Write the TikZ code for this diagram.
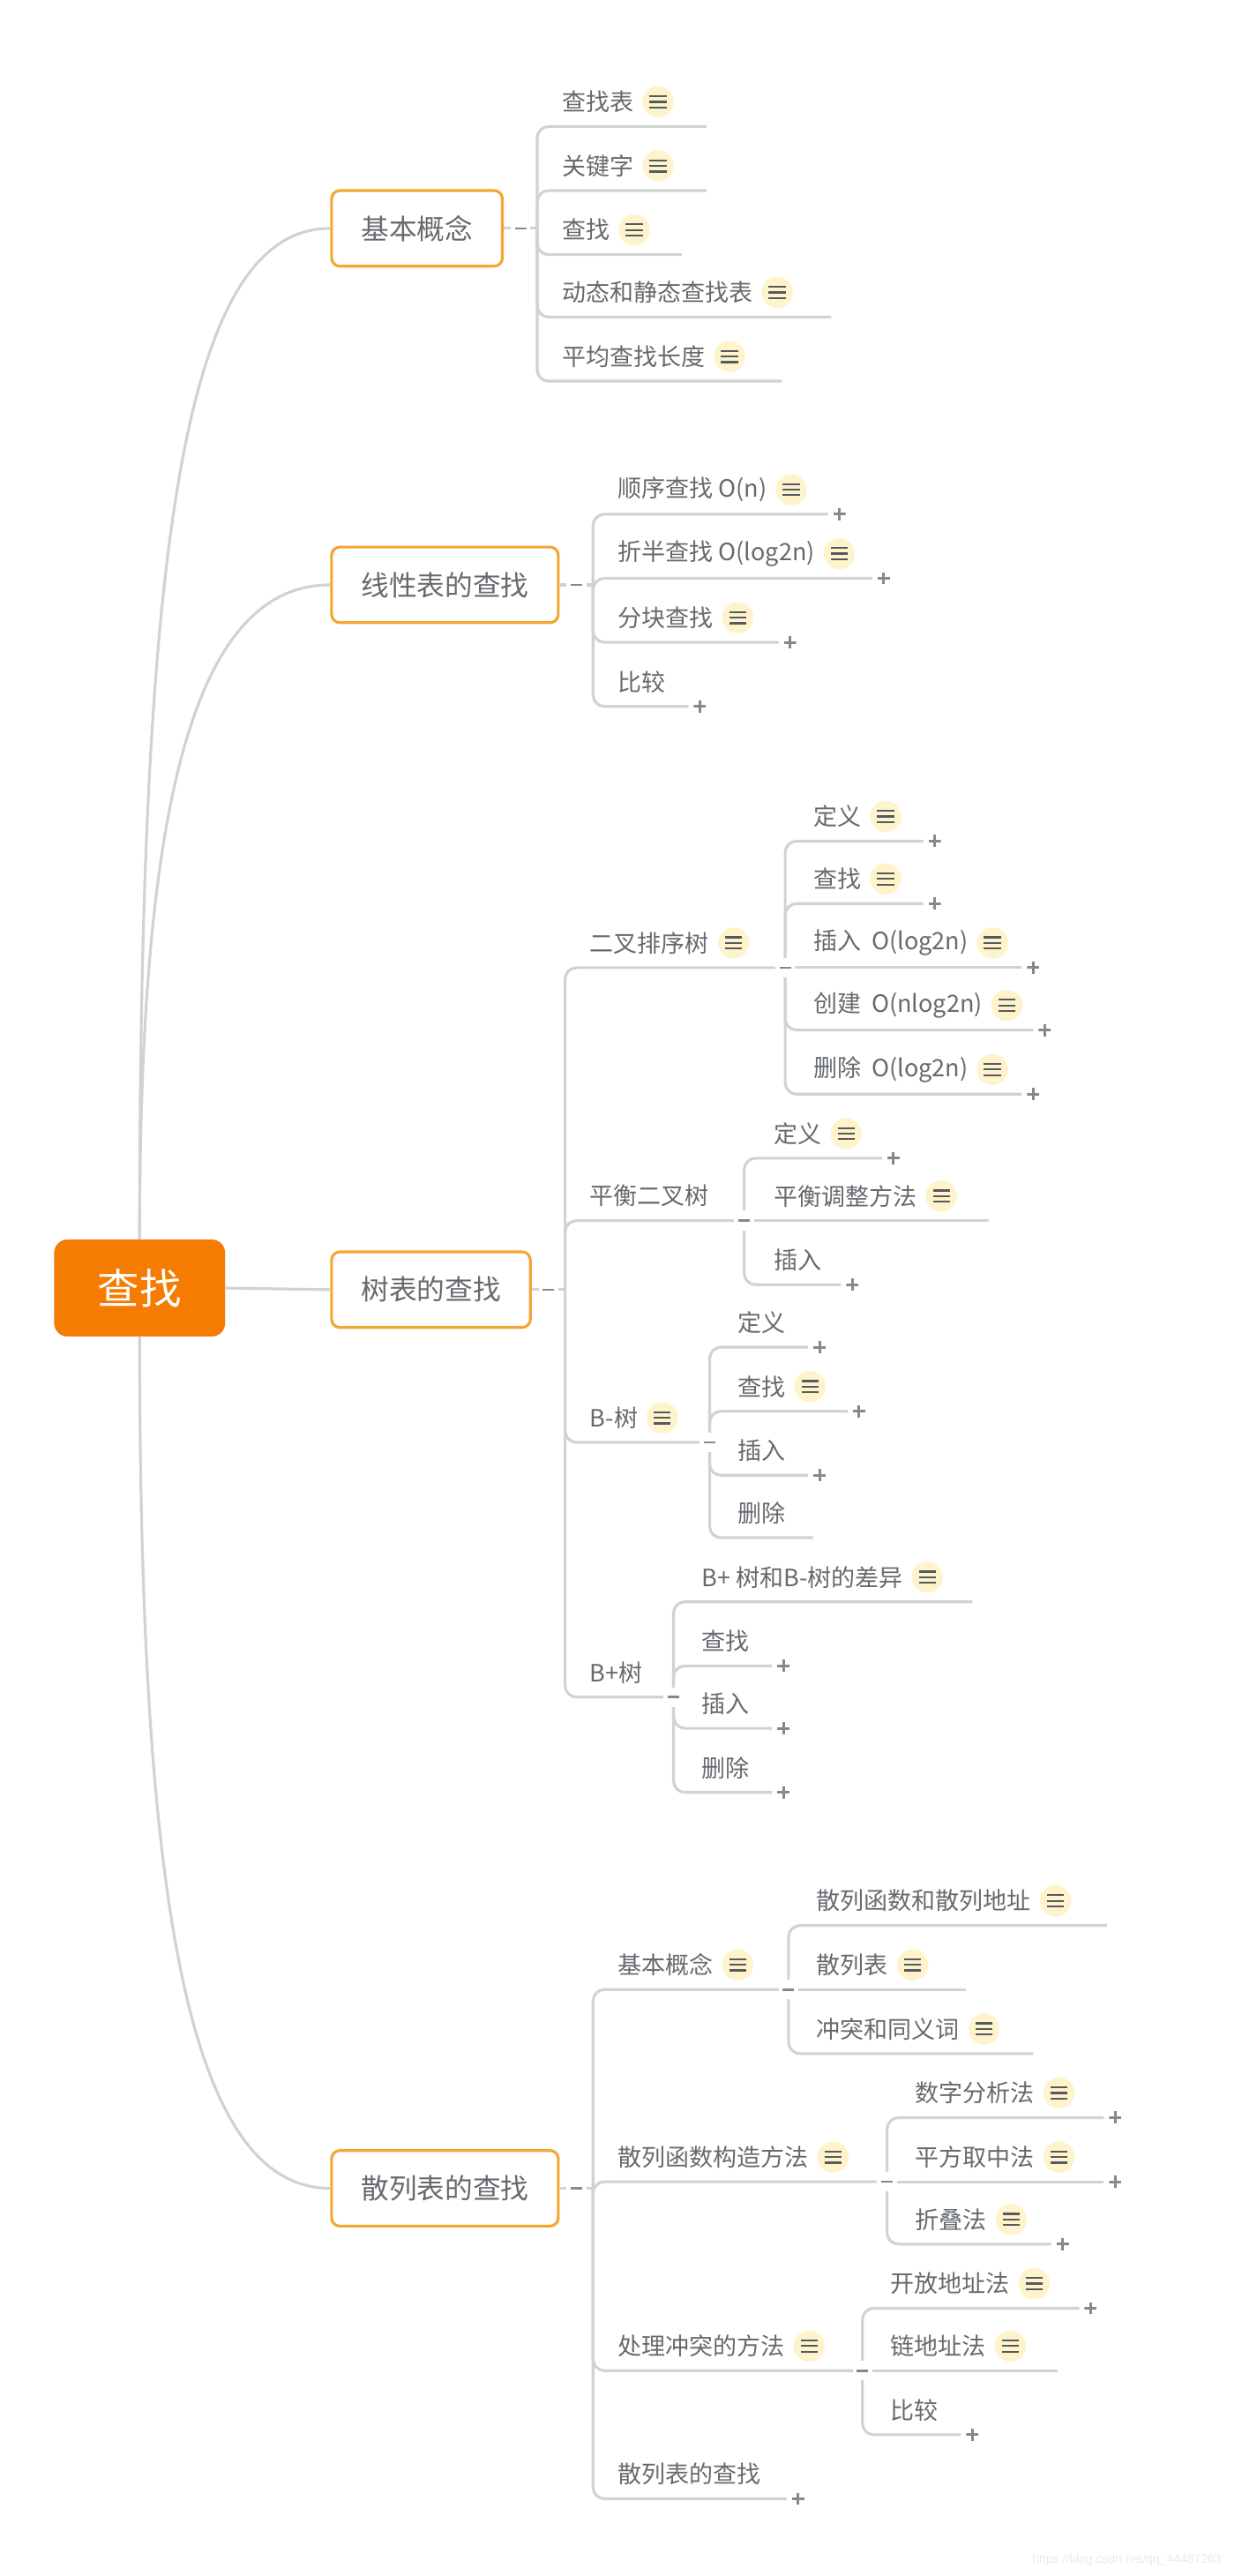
\documentclass[tikz,border=0pt]{standalone}
\usepackage{fontspec}
\newfontfamily\cjk{Noto Sans CJK SC}
\usetikzlibrary{positioning}

\definecolor{wurzelorange}{RGB}{245,124,0}
\definecolor{kastenorange}{RGB}{245,165,50}
\definecolor{linie}{RGB}{208,211,211}
\definecolor{schrift}{RGB}{102,106,110}
\definecolor{notizgelb}{RGB}{255,243,204}
\definecolor{notizgrau}{RGB}{85,90,95}
\definecolor{zeichen}{RGB}{136,136,136}

\tikzset{
    wurzel/.style={rectangle, rounded corners=8pt, fill=wurzelorange, text=white,
        font=\cjk\fontsize{25.5}{29}\selectfont, minimum width=104pt, minimum height=59pt},
    kasten/.style={rectangle, rounded corners=5pt, draw=kastenorange, line width=1.7pt,
        fill=white, text=schrift, font=\cjk\fontsize{17}{20}\selectfont,
        minimum height=46pt, inner xsep=18pt, anchor=west},
    blatt/.style={anchor=west, inner sep=0pt, text=schrift, font=\cjk\fontsize{14.5}{17}\selectfont},
    notiz/.style={circle, fill=notizgelb, minimum size=19pt, inner sep=0pt,
        path picture={\foreach \d in {-3.4,0,3.4}
            \draw[notizgrau, line width=1.2pt] ([xshift=-5.2pt,yshift=\d pt]path picture bounding box.center) -- ++(10.4pt,0);}},
    pluszeichen/.style={minimum size=7.5pt, inner sep=0pt,
        path picture={\draw[zeichen, line width=1.6pt]
            (path picture bounding box.north) -- (path picture bounding box.south)
            (path picture bounding box.west) -- (path picture bounding box.east);}},
    knopf/.style={fill=white, minimum width=12pt, minimum height=12pt, inner sep=0pt,
        path picture={\draw[zeichen, line width=1.4pt]
            ([xshift=-3.5pt]path picture bounding box.center) -- ([xshift=3.5pt]path picture bounding box.center);}},
    ast/.style={draw=linie, line width=1.7pt, rounded corners=7pt},
    zweig/.style={draw=linie, line width=1.7pt}
}

\begin{document}
\begin{tikzpicture}[x=1pt, y=-1pt]
    \useasboundingbox[fill=white] (0,0) rectangle (756,1568);

    % Wurzel und Hauptaeste
    \path node[wurzel] (chazhao) at (85,784) {查找}
        node[kasten] (jiben) at (201,139) {基本概念}
        node[kasten] (xianxing) at (201,356) {线性表的查找}
        node[kasten] (shubiao) at (201,785) {树表的查找}
        node[kasten] (sanlie) at (201,1332) {散列表的查找};
    \draw[zweig] (chazhao.north) .. controls (85,330) and (112,139) .. (jiben.west);
    \draw[zweig] (chazhao.north) .. controls (85,500) and (115,356) .. (xianxing.west);
    \draw[zweig] (chazhao.east) -- (shubiao.west);
    \draw[zweig] (chazhao.south) .. controls (85,1160) and (115,1332) .. (sanlie.west);

    \coordinate (k1) at (327,139);
    \coordinate (k2) at (361,356);
    \coordinate (k3) at (344,785);
    \coordinate (k4) at (361,1332);

    % 基本概念
    \path node[blatt] (jb1) at (342,62) {查找表}
        node[blatt] (jb2) at (342,101) {关键字}
        node[blatt] (jb3) at (342,140) {查找}
        node[blatt] (jb4) at (342,178) {动态和静态查找表}
        node[blatt] (jb5) at (342,217) {平均查找长度}
        node[notiz, right=5pt of jb1] (jb1n) {}
        node[notiz, right=5pt of jb2] (jb2n) {}
        node[notiz, right=5pt of jb3] (jb3n) {}
        node[notiz, right=5pt of jb4] (jb4n) {}
        node[notiz, right=5pt of jb5] (jb5n) {};
    \coordinate (jb1e) at (430,77);
    \coordinate (jb2e) at (430,116);
    \coordinate (jb3e) at (415,155);
    \coordinate (jb4e) at (506,193);
    \coordinate (jb5e) at (476,232);
    \draw[ast] (jiben.east) -- (k1);
    \draw[ast] (k1) |- (jb1e);
    \draw[ast] (k1) |- (jb2e);
    \draw[ast] (k1) |- (jb3e);
    \draw[ast] (k1) |- (jb4e);
    \draw[ast] (k1) |- (jb5e);

    % 线性表的查找
    \path node[blatt] (xx1) at (376,298) {顺序查找 O(n)}
        node[blatt] (xx2) at (376,337) {折半查找 O(log2n)}
        node[blatt] (xx3) at (376,376) {分块查找}
        node[blatt] (xx4) at (376,415) {比较}
        node[notiz, right=5pt of xx1] (xx1n) {}
        node[notiz, right=5pt of xx2] (xx2n) {}
        node[notiz, right=5pt of xx3] (xx3n) {};
    \coordinate (xx1e) at (504,313);
    \coordinate (xx2e) at (531,352);
    \coordinate (xx3e) at (474,391);
    \coordinate (xx4e) at (419,430);
    \path node[pluszeichen, right=3pt of xx1e] (xx1p) {}
        node[pluszeichen, right=3pt of xx2e] (xx2p) {}
        node[pluszeichen, right=3pt of xx3e] (xx3p) {}
        node[pluszeichen, right=3pt of xx4e] (xx4p) {};
    \draw[ast] (xianxing.east) -- (k2);
    \draw[ast] (k2) |- (xx1e);
    \draw[ast] (k2) |- (xx2e);
    \draw[ast] (k2) |- (xx3e);
    \draw[ast] (k2) |- (xx4e);

    % 树表的查找
    \path node[blatt] (er) at (359,574) {二叉排序树}
        node[blatt] (ph) at (359,728) {平衡二叉树}
        node[blatt] (bm) at (359,863) {B-树}
        node[blatt] (bp) at (359,1018) {B+树}
        node[notiz, right=5pt of er] (ern) {}
        node[notiz, right=5pt of bm] (bmn) {};
    \coordinate (erk) at (478,589);
    \coordinate (phk) at (453,743);
    \coordinate (bmk) at (432,878);
    \coordinate (bpk) at (410,1033);
    \draw[ast] (shubiao.east) -- (k3);
    \draw[ast] (k3) |- (erk);
    \draw[ast] (k3) |- (phk);
    \draw[ast] (k3) |- (bmk);
    \draw[ast] (k3) |- (bpk);

    % 二叉排序树
    \path node[blatt] (er1) at (495,497) {定义}
        node[blatt] (er2) at (495,535) {查找}
        node[blatt] (er3) at (495,574) {插入\ \ O(log2n)}
        node[blatt] (er4) at (495,612) {创建\ \ O(nlog2n)}
        node[blatt] (er5) at (495,651) {删除\ \ O(log2n)}
        node[notiz, right=5pt of er1] (er1n) {}
        node[notiz, right=5pt of er2] (er2n) {}
        node[notiz, right=5pt of er3] (er3n) {}
        node[notiz, right=5pt of er4] (er4n) {}
        node[notiz, right=5pt of er5] (er5n) {};
    \coordinate (er1e) at (562,512);
    \coordinate (er2e) at (562,550);
    \coordinate (er3e) at (622,589);
    \coordinate (er4e) at (629,627);
    \coordinate (er5e) at (622,666);
    \path node[pluszeichen, right=3pt of er1e] (er1p) {}
        node[pluszeichen, right=3pt of er2e] (er2p) {}
        node[pluszeichen, right=3pt of er3e] (er3p) {}
        node[pluszeichen, right=3pt of er4e] (er4p) {}
        node[pluszeichen, right=3pt of er5e] (er5p) {};
    \draw[ast] (erk) |- (er1e);
    \draw[ast] (erk) |- (er2e);
    \draw[ast] (erk) -- (er3e);
    \draw[ast] (erk) |- (er4e);
    \draw[ast] (erk) |- (er5e);

    % 平衡二叉树
    \path node[blatt] (ph1) at (471,690) {定义}
        node[blatt] (ph2) at (471,728) {平衡调整方法}
        node[blatt] (ph3) at (471,767) {插入}
        node[notiz, right=5pt of ph1] (ph1n) {}
        node[notiz, right=5pt of ph2] (ph2n) {};
    \coordinate (ph1e) at (537,705);
    \coordinate (ph2e) at (602,743);
    \coordinate (ph3e) at (512,782);
    \path node[pluszeichen, right=3pt of ph1e] (ph1p) {}
        node[pluszeichen, right=3pt of ph3e] (ph3p) {};
    \draw[ast] (phk) |- (ph1e);
    \draw[ast] (phk) -- (ph2e);
    \draw[ast] (phk) |- (ph3e);

    % B-树
    \path node[blatt] (bm1) at (449,805) {定义}
        node[blatt] (bm2) at (449,844) {查找}
        node[blatt] (bm3) at (449,883) {插入}
        node[blatt] (bm4) at (449,921) {删除}
        node[notiz, right=5pt of bm2] (bm2n) {};
    \coordinate (bm1e) at (492,820);
    \coordinate (bm2e) at (516,859);
    \coordinate (bm3e) at (492,898);
    \coordinate (bm4e) at (495,936);
    \path node[pluszeichen, right=3pt of bm1e] (bm1p) {}
        node[pluszeichen, right=3pt of bm2e] (bm2p) {}
        node[pluszeichen, right=3pt of bm3e] (bm3p) {};
    \draw[ast] (bmk) |- (bm1e);
    \draw[ast] (bmk) |- (bm2e);
    \draw[ast] (bmk) |- (bm3e);
    \draw[ast] (bmk) |- (bm4e);

    % B+树
    \path node[blatt] (bp1) at (427,960) {B+ 树和B-树的差异}
        node[blatt] (bp2) at (427,999) {查找}
        node[blatt] (bp3) at (427,1037) {插入}
        node[blatt] (bp4) at (427,1076) {删除}
        node[notiz, right=5pt of bp1] (bp1n) {};
    \coordinate (bp1e) at (592,975);
    \coordinate (bp2e) at (470,1014);
    \coordinate (bp3e) at (470,1052);
    \coordinate (bp4e) at (470,1091);
    \path node[pluszeichen, right=3pt of bp2e] (bp2p) {}
        node[pluszeichen, right=3pt of bp3e] (bp3p) {}
        node[pluszeichen, right=3pt of bp4e] (bp4p) {};
    \draw[ast] (bpk) |- (bp1e);
    \draw[ast] (bpk) |- (bp2e);
    \draw[ast] (bpk) |- (bp3e);
    \draw[ast] (bpk) |- (bp4e);

    % 散列表的查找
    \path node[blatt] (sa) at (376,1196) {基本概念}
        node[blatt] (sb) at (376,1313) {散列函数构造方法}
        node[blatt] (sc) at (376,1428) {处理冲突的方法}
        node[blatt] (sd) at (376,1506) {散列表的查找}
        node[notiz, right=5pt of sa] (san) {}
        node[notiz, right=5pt of sb] (sbn) {}
        node[notiz, right=5pt of sc] (scn) {};
    \coordinate (sak) at (480,1211);
    \coordinate (sbk) at (540,1328);
    \coordinate (sck) at (525,1443);
    \coordinate (sde) at (479,1521);
    \path node[pluszeichen, right=3pt of sde] (sdp) {};
    \draw[ast] (sanlie.east) -- (k4);
    \draw[ast] (k4) |- (sak);
    \draw[ast] (k4) |- (sbk);
    \draw[ast] (k4) |- (sck);
    \draw[ast] (k4) |- (sde);

    % 基本概念 (散列)
    \path node[blatt] (sa1) at (497,1157) {散列函数和散列地址}
        node[blatt] (sa2) at (497,1196) {散列表}
        node[blatt] (sa3) at (497,1235) {冲突和同义词}
        node[notiz, right=5pt of sa1] (sa1n) {}
        node[notiz, right=5pt of sa2] (sa2n) {}
        node[notiz, right=5pt of sa3] (sa3n) {};
    \coordinate (sa1e) at (674,1172);
    \coordinate (sa2e) at (588,1211);
    \coordinate (sa3e) at (629,1250);
    \draw[ast] (sak) |- (sa1e);
    \draw[ast] (sak) -- (sa2e);
    \draw[ast] (sak) |- (sa3e);

    % 散列函数构造方法
    \path node[blatt] (sb1) at (557,1274) {数字分析法}
        node[blatt] (sb2) at (557,1313) {平方取中法}
        node[blatt] (sb3) at (557,1351) {折叠法}
        node[notiz, right=5pt of sb1] (sb1n) {}
        node[notiz, right=5pt of sb2] (sb2n) {}
        node[notiz, right=5pt of sb3] (sb3n) {};
    \coordinate (sb1e) at (672,1289);
    \coordinate (sb2e) at (672,1328);
    \coordinate (sb3e) at (640,1366);
    \path node[pluszeichen, right=3pt of sb1e] (sb1p) {}
        node[pluszeichen, right=3pt of sb2e] (sb2p) {}
        node[pluszeichen, right=3pt of sb3e] (sb3p) {};
    \draw[ast] (sbk) |- (sb1e);
    \draw[ast] (sbk) -- (sb2e);
    \draw[ast] (sbk) |- (sb3e);

    % 处理冲突的方法
    \path node[blatt] (sc1) at (542,1390) {开放地址法}
        node[blatt] (sc2) at (542,1428) {链地址法}
        node[blatt] (sc3) at (542,1467) {比较}
        node[notiz, right=5pt of sc1] (sc1n) {}
        node[notiz, right=5pt of sc2] (sc2n) {};
    \coordinate (sc1e) at (657,1405);
    \coordinate (sc2e) at (644,1443);
    \coordinate (sc3e) at (585,1482);
    \path node[pluszeichen, right=3pt of sc1e] (sc1p) {}
        node[pluszeichen, right=3pt of sc3e] (sc3p) {};
    \draw[ast] (sck) |- (sc1e);
    \draw[ast] (sck) -- (sc2e);
    \draw[ast] (sck) |- (sc3e);

    % Knoepfe zum Einklappen
    \path node[knopf, right=4pt of jiben] (jbm) {}
        node[knopf, right=4pt of xianxing] (xxm) {}
        node[knopf, right=4pt of shubiao] (sbm) {}
        node[knopf, right=4pt of sanlie] (slm) {}
        node[knopf] (erm) at (erk) {}
        node[knopf] (phm) at (phk) {}
        node[knopf] (bmm) at (bmk) {}
        node[knopf] (bpm) at (bpk) {}
        node[knopf] (sam) at (sak) {}
        node[knopf] (sbmm) at (sbk) {}
        node[knopf] (scm) at (sck) {};

    \node[text=black!8, font=\fontspec{Liberation Sans}\fontsize{7.5}{9}\selectfont] (quelle) at (686,1558) {https://blog.csdn.net/qq\_44487263};
\end{tikzpicture}
\end{document}
